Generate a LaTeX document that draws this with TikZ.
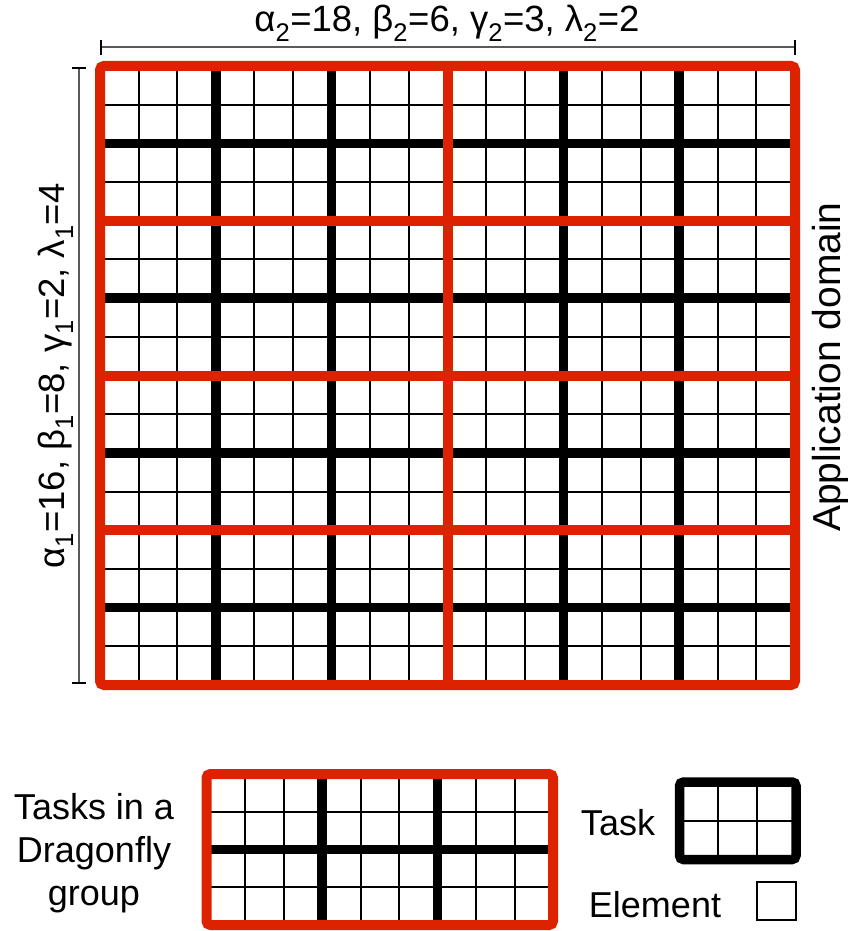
\documentclass[tikz,border=0pt]{standalone}
\usepackage{fontspec}
\setmainfont{Liberation Sans}
\definecolor{gridred}{RGB}{221,34,0}
\definecolor{dimgray}{RGB}{90,90,90}
\begin{document}
\begin{tikzpicture}[x=1pt,y=-1pt,
  cellline/.style={black,line width=2pt},
  taskline/.style={black,line width=9.5pt},
  groupline/.style={gridred,line width=10pt},
  dimline/.style={dimgray,line width=1.5pt},
  dimtick/.style={black,line width=1.8pt},
  lbl/.style={font=\fontsize{36}{43}\selectfont,inner sep=0pt},
  dimlbl/.style={font=\fontsize{36.5}{40}\selectfont,inner sep=0pt}]
\useasboundingbox (0,0) rectangle (847,931);

% ---------- main grid (application domain) ----------
\def\cw{38.6111}\def\ch{38.6875}
\foreach \i in {1,...,17} \draw[cellline] ({100+\i*\cw},66) -- ++(0,619);
\foreach \j in {1,...,15} \draw[cellline] (100,{66+\j*\ch}) -- ++(695,0);
\foreach \i in {3,6,12,15} \draw[taskline] ({100+\i*\cw},66) -- ++(0,619);
\foreach \j in {2,6,10,14} \draw[taskline] (100,{66+\j*\ch}) -- ++(695,0);
\draw[groupline] ({100+9*\cw},66) -- ++(0,619);
\foreach \j in {4,8,12} \draw[groupline] (100,{66+\j*\ch}) -- ++(695,0);
\draw[groupline,rounded corners=4pt] (100,66) rectangle (795,685);

% ---------- dimension lines ----------
\coordinate (tl) at (101,47); \coordinate (tr) at (795,47);
\draw[dimline] (tl) -- (tr);
\draw[dimtick] (101,40) -- (101,55);
\draw[dimtick] (795,40) -- (795,55);
\coordinate (lt) at (79,68); \coordinate (lb) at (79,683);
\draw[dimline] (lt) -- (lb);
\draw[dimtick] (72,68) -- (86,68);
\draw[dimtick] (72,683) -- (86,683);

\node[dimlbl,anchor=base] (toplbl) at (447,32)
  {α\textsubscript{2}=18, β\textsubscript{2}=6, γ\textsubscript{2}=3, λ\textsubscript{2}=2};
\node[dimlbl,anchor=base,rotate=90] (leftlbl) at (64,376)
  {α\textsubscript{1}=16, β\textsubscript{1}=8, γ\textsubscript{1}=2, λ\textsubscript{1}=4};
\node[lbl,font=\fontsize{39}{43}\selectfont,anchor=base,rotate=90] (applbl) at (840,367) {Application domain};

% ---------- legend: tasks in a dragonfly group ----------
\def\lw{38.5}\def\lh{37.75}
\foreach \i in {1,...,8} \draw[cellline] ({206.5+\i*\lw},774) -- ++(0,151);
\foreach \j in {1,2,3} \draw[cellline] (206.5,{774+\j*\lh}) -- ++(346.5,0);
\foreach \i in {3,6} \draw[taskline] ({206.5+\i*\lw},774) -- ++(0,151);
\draw[taskline] (206.5,{774+2*\lh}) -- ++(346.5,0);
\draw[groupline,rounded corners=4pt] (206.5,774) rectangle (553,925);
\node[lbl,align=center,anchor=center] (grouplbl) at (94,853)
  {Tasks in a\\Dragonfly\\group};

% ---------- legend: task ----------
\foreach \i in {1,2} \draw[cellline] ({679.5+\i*38.83},782) -- ++(0,77.5);
\draw[cellline] (679.5,820.75) -- (796,820.75);
\draw[taskline,rounded corners=4pt] (679.5,782) rectangle (796,859.5);
\node[lbl,anchor=base] (tasklbl) at (618,835) {Task};

% ---------- legend: element ----------
\draw[black,line width=1.5pt] (757,882) rectangle (796,920);
\node[lbl,anchor=base] (elemlbl) at (655,917) {Element};
\end{tikzpicture}
\end{document}
